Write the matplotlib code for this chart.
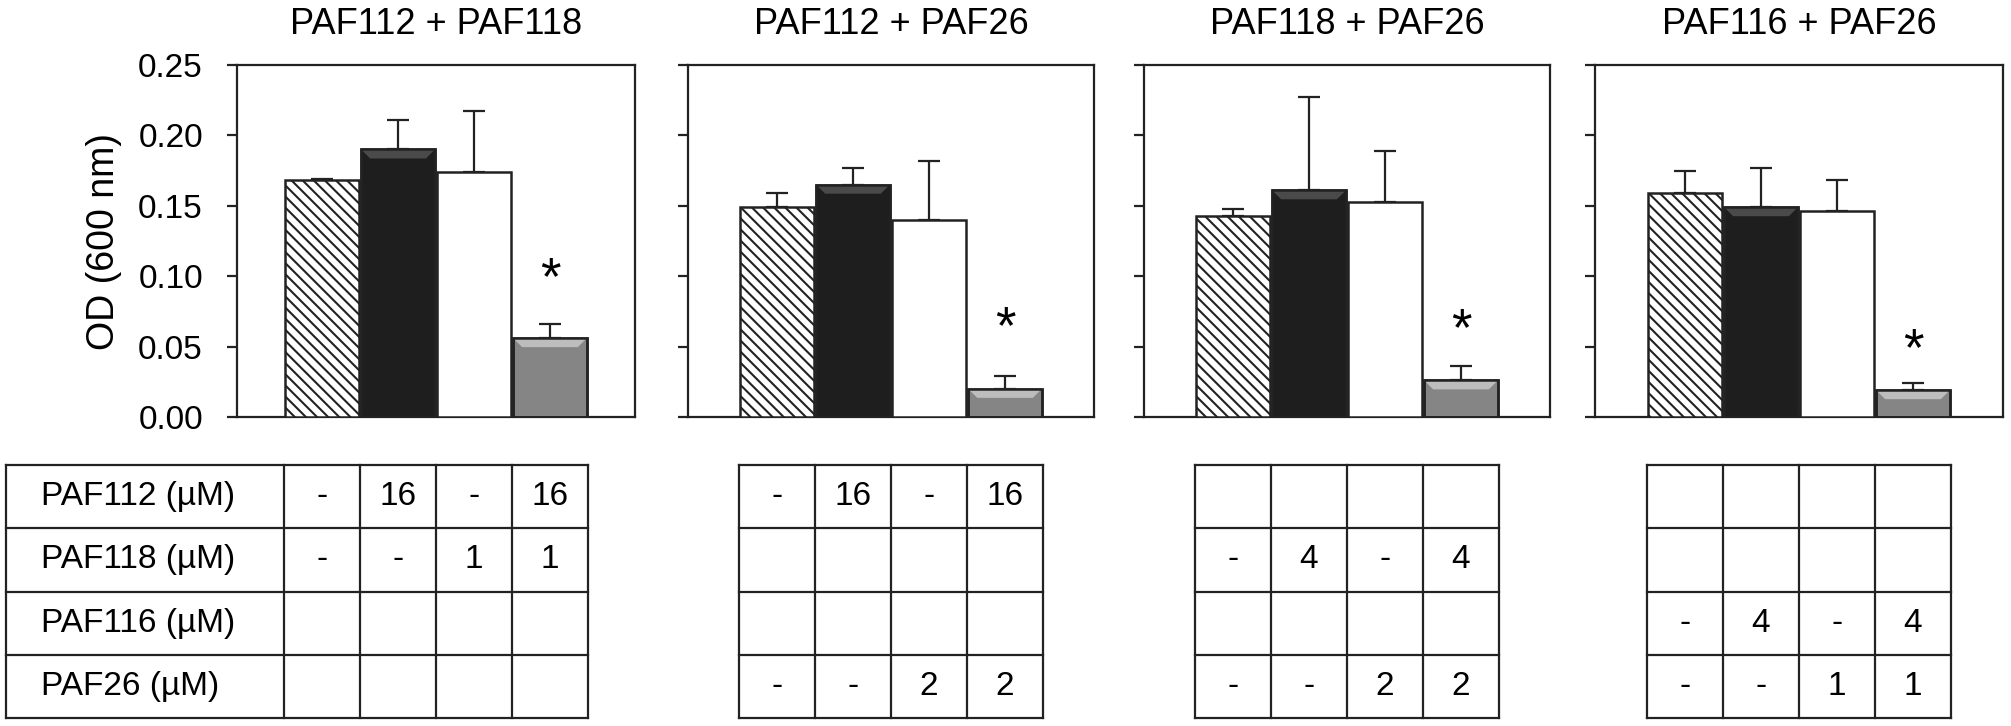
import matplotlib
matplotlib.use('Agg')
import matplotlib.pyplot as plt
from matplotlib.patches import Polygon
import numpy as np

plt.rcParams['font.family'] = ['Liberation Sans', 'DejaVu Sans']
plt.rcParams['hatch.linewidth'] = 1.5

# data
titles = ['PAF112 + PAF118', 'PAF112 + PAF26', 'PAF118 + PAF26', 'PAF116 + PAF26']
od_mean = [[0.168, 0.190, 0.174, 0.056],
           [0.149, 0.165, 0.140, 0.020],
           [0.143, 0.161, 0.153, 0.026],
           [0.159, 0.149, 0.146, 0.019]]
od_err = [[0.001, 0.021, 0.043, 0.010],
          [0.010, 0.012, 0.042, 0.009],
          [0.005, 0.066, 0.036, 0.010],
          [0.016, 0.028, 0.022, 0.005]]
star_y = [0.104, 0.069, 0.068, 0.054]
y_ticks = [0.00, 0.05, 0.10, 0.15, 0.20, 0.25]
row_labels = ['PAF112 (µM)', 'PAF118 (µM)', 'PAF116 (µM)', 'PAF26 (µM)']
empty = ['', '', '', '']
conc = [[['-', '16', '-', '16'], ['-', '-', '1', '1'], empty, empty],
        [['-', '16', '-', '16'], empty, empty, ['-', '-', '2', '2']],
        [empty, ['-', '4', '-', '4'], empty, ['-', '-', '2', '2']],
        [empty, empty, ['-', '4', '-', '4'], ['-', '-', '1', '1']]]

# layout (pixels of the 2011x726 picture)
W, H = 2011, 726
panel_x = [(237, 635), (688, 1094), (1144, 1550), (1595, 2003)]
ax_top, ax_bot = 65, 417
tab_top, tab_bot = 465, 718
cell_px = 76
label_px = 278

ink = '#222222'
faces = ['white', '#1e1e1e', 'white', '#858585']
bevels = [None, '#4a4a4a', None, '#bdbdbd']
hatches = ['\\\\\\', None, None, None]
bw = 0.97

fig = plt.figure(figsize=(W / 100, H / 100), dpi=100)

for i in range(4):
    x0, x1 = panel_x[i]
    span = (x1 - x0) / cell_px
    ax = fig.add_axes([x0 / W, 1 - ax_bot / H, (x1 - x0) / W, (ax_bot - ax_top) / H])
    xs = np.arange(4)
    dy = 0.25 * 9 / (ax_bot - ax_top)   # bevel depth, ~9 px
    dx = 9 / cell_px
    for j in range(4):
        ax.bar(xs[j], od_mean[i][j], width=bw, color=faces[j], edgecolor=ink,
               linewidth=1.8, hatch=hatches[j], zorder=3)
        if bevels[j]:
            h = od_mean[i][j]
            d = min(dy, h / 3)
            ax.add_patch(Polygon([(xs[j] - bw / 2, h), (xs[j] + bw / 2, h),
                                  (xs[j] + bw / 2 - dx, h - d), (xs[j] - bw / 2 + dx, h - d)],
                                 closed=True, facecolor=bevels[j], edgecolor='none',
                                 zorder=3.5))
            ax.bar(xs[j], h, width=bw, color='none', edgecolor=ink, linewidth=1.8, zorder=4)
    ax.errorbar(xs, od_mean[i], yerr=[np.zeros(4), od_err[i]], fmt='none',
                ecolor=ink, elinewidth=1.6, capsize=8, capthick=1.6, zorder=2)
    ax.annotate('*', (xs[3], star_y[i]), xytext=(0, -7), textcoords='offset points',
                ha='center', va='center', fontsize=38)
    ax.set_xlim(1.5 - span / 2, 1.5 + span / 2)
    ax.set_ylim(0, 0.25)
    ax.set_yticks(y_ticks)
    ax.set_xticks([])
    for s in ax.spines.values():
        s.set_linewidth(1.6)
        s.set_color(ink)
    ax.tick_params(axis='y', direction='out', length=7.5, width=1.6, color=ink,
                   pad=17, labelsize=24)
    if i == 0:
        ax.set_yticklabels(['%.2f' % t for t in y_ticks])
        ax.set_ylabel('OD (600 nm)', fontsize=27, labelpad=12)
    else:
        ax.set_yticklabels([])
    ax.set_title(titles[i], fontsize=26, pad=22)

    # concentration table under each panel
    tax = fig.add_axes([x0 / W, 1 - tab_bot / H, (x1 - x0) / W, (tab_bot - tab_top) / H])
    tax.set_xlim(ax.get_xlim())
    tax.set_ylim(4, 0)
    tax.axis('off')
    left = -0.5 - (label_px / cell_px if i == 0 else 0)
    for r in range(5):
        tax.plot([left, 3.5], [r, r], color=ink, lw=1.6, clip_on=False)
    for c in range(5):
        tax.plot([c - 0.5, c - 0.5], [0, 4], color=ink, lw=1.6, clip_on=False)
    if i == 0:
        tax.plot([left, left], [0, 4], color=ink, lw=1.6, clip_on=False)
        for r in range(4):
            tax.text(left + 35 / cell_px, r + 0.5, row_labels[r], ha='left',
                     va='center', fontsize=24, clip_on=False)
    for r in range(4):
        for c in range(4):
            tax.text(c, r + 0.5, conc[i][r][c], ha='center', va='center', fontsize=24)

fig.savefig('out.png', dpi=100)
